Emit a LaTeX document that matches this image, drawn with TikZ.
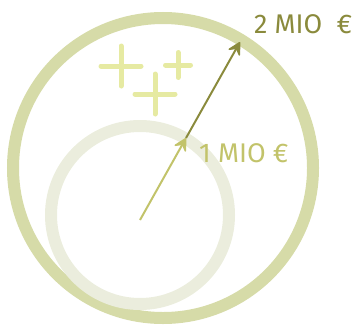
\documentclass[tikz,border=0pt]{standalone}
\usepackage{fontspec}
\setmainfont{Fira Sans}
\usepackage{xcolor}
\usetikzlibrary{arrows.meta,positioning}
\definecolor{ringbig}{HTML}{D6DBA8}
\definecolor{ringsmall}{HTML}{EBEDDD}
\definecolor{plusgreen}{HTML}{E6EAA2}
\definecolor{olivelight}{HTML}{C2C36A}
\definecolor{olivedark}{HTML}{8A8A3C}
\begin{document}
\begin{tikzpicture}[x=1pt,y=1pt,font=\fontsize{27}{30}\selectfont,
 ring/.style={line width=#1},
 plusmark/.style={plusgreen,line width=5pt,line cap=round},
 radius arrow/.style={line width=2pt,-{Stealth[length=15pt,width=16pt,inset=6pt,line width=1.5pt,round]}}]
\useasboundingbox (0,0) rectangle (352,325);
% rings
\draw[ringbig,ring=12pt] (163,157) circle (150);
\draw[ringsmall,ring=12pt] (140,110) circle (89);
% plus signs
\foreach \cx/\cy/\h in {121/259/20,178/260/12.5,155/231/20}{
 \draw[plusmark] (\cx-\h,\cy)--(\cx+\h,\cy);
 \draw[plusmark] (\cx,\cy-\h)--(\cx,\cy+\h);
}
% radii
\coordinate (centre) at (140,105);
\coordinate (onemio) at (186,187);
\coordinate (twomio) at (240,283);
\draw[radius arrow,olivelight] (centre)--(onemio);
\draw[radius arrow,olivedark] (onemio)--(twomio);
\node[olivelight,anchor=base west,inner sep=0pt] (lblone) at (199,163) {1 MIO €};
\node[olivedark,anchor=base west,inner sep=0pt] (lbltwo) at (254,292) {2 MIO \ €};
\end{tikzpicture}
\end{document}
